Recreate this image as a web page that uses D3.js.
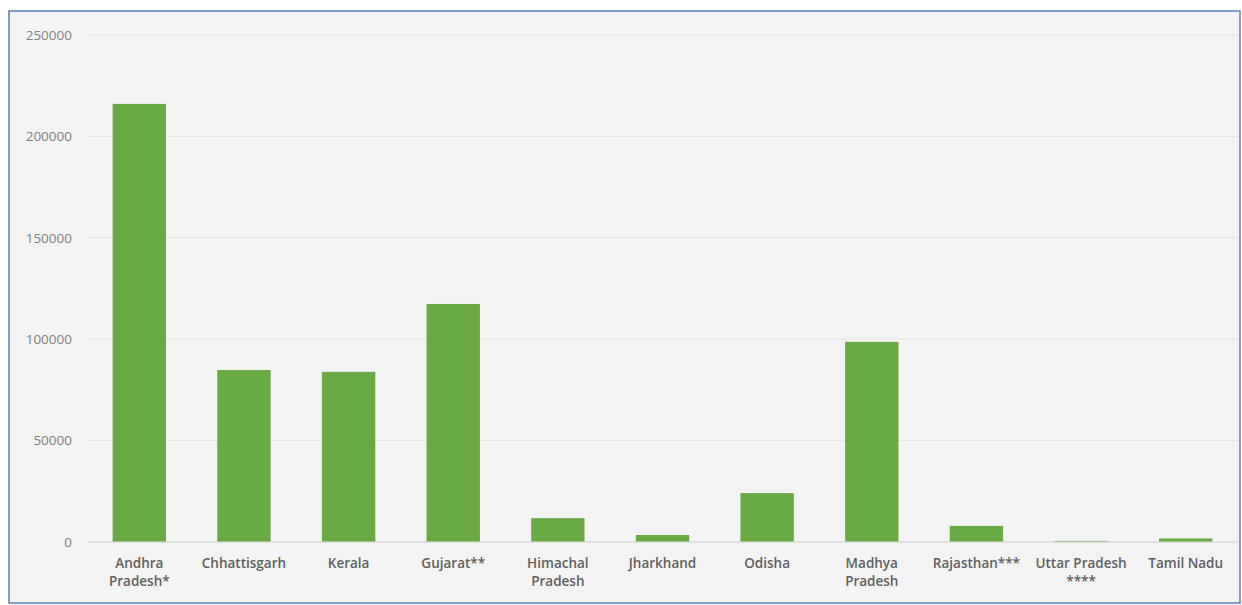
<!DOCTYPE html>
<html><head><meta charset="utf-8">
<script src="https://cdn.jsdelivr.net/npm/d3@7"></script>
<style>body{margin:0;background:#fff}svg{display:block}</style>
</head><body>
<svg id="c" width="1242" height="605"></svg>
<script>
const categories = [["Andhra","Pradesh*"],["Chhattisgarh"],["Kerala"],["Gujarat**"],["Himachal","Pradesh"],["Jharkhand"],["Odisha"],["Madhya","Pradesh"],["Rajasthan***"],["Uttar Pradesh","****"],["Tamil Nadu"]];
const values = [216000, 84700, 83800, 117300, 11600, 3300, 24000, 98600, 7800, 400, 1600];
const yTicks = [0, 50000, 100000, 150000, 200000, 250000];

const svg = d3.select("#c");
svg.append("rect").attr("x",9).attr("y",11).attr("width",1231).attr("height",592)
  .attr("fill","#f3f3f3").attr("stroke","#5b7fb8").attr("stroke-width",1.5);

const keys = categories.map(c=>c.join(" "));
const x = d3.scaleBand().domain(keys).range([87,1238]).paddingInner(0.49).paddingOuter(0.245);
const y = d3.scaleLinear().domain([0,250000]).range([541.7,35]);

const g = svg.append("g");
g.selectAll("line.grid").data(yTicks).join("line")
  .attr("x1",88).attr("x2",1238).attr("y1",d=>y(d)).attr("y2",d=>y(d))
  .attr("stroke","#e2e2e2").attr("stroke-width",1);

const yAxis = d3.axisLeft(y).tickValues(yTicks).tickSize(0).tickPadding(0).tickFormat(d3.format("d"));
const ya = svg.append("g").attr("transform","translate(72,0)").call(yAxis);
ya.select(".domain").remove();
ya.selectAll("text").attr("fill","#7f7f7f").style("font-family","'Open Sans', sans-serif").style("font-size","13.5px");

g.selectAll("rect.bar").data(values).join("rect")
  .attr("x",(d,i)=>x(keys[i])).attr("width",x.bandwidth())
  .attr("y",d=>y(d)).attr("height",d=>y(0)-y(d))
  .attr("fill","#6aaa45");

const xAxis = d3.axisBottom(x).tickSize(0).tickPadding(0);
const xa = svg.append("g").attr("transform","translate(0,"+y(0)+")").call(xAxis);
xa.select(".domain").attr("stroke","#d9d9d9");
xa.selectAll(".tick text").each(function(d,i){
  const t = d3.select(this).text(null).attr("dy",null).attr("y",null).attr("fill","#5f5f5f")
    .style("font-family","'Open Sans', sans-serif").style("font-size","13.5px").style("font-weight","600");
  categories[i].forEach((line,j)=>{
    t.append("tspan").attr("x",0).attr("y",26+j*18).text(line);
  });
});
</script>
</body></html>
